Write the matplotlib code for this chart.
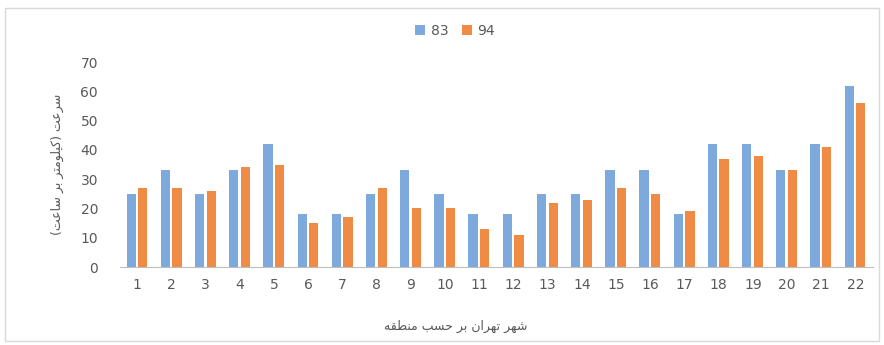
import numpy as np
import matplotlib
matplotlib.use("Agg")
from matplotlib import pyplot as plt
from matplotlib.patches import Rectangle

# Average speed per district of Tehran, two survey years
districts = [str(i) for i in range(1, 23)]
speed_83 = [25, 33, 25, 33, 42, 18, 18, 25, 33, 25, 18, 18, 25, 25, 33, 33, 18, 42, 42, 33, 42, 62]
speed_94 = [27, 27, 26, 34, 35, 15, 17, 27, 20, 20, 13, 11, 22, 23, 27, 25, 19, 37, 38, 33, 41, 56]
series_names = ["83", "94"]

y_label = "سرعت (کیلومتر بر ساعت)"
x_label = "شهر تهران بر حسب منطقه"

# matplotlib has no Arabic shaping, so pick the contextual glyphs by hand
# (isolated, final, initial, medial); right-joining letters have only two
FORMS = {
    "ا": ("\uFE8D", "\uFE8E"), "ر": ("\uFEAD", "\uFEAE"), "و": ("\uFEED", "\uFEEE"),
    "ب": ("\uFE8F", "\uFE90", "\uFE91", "\uFE92"), "ت": ("\uFE95", "\uFE96", "\uFE97", "\uFE98"),
    "ح": ("\uFEA1", "\uFEA2", "\uFEA3", "\uFEA4"), "س": ("\uFEB1", "\uFEB2", "\uFEB3", "\uFEB4"),
    "ش": ("\uFEB5", "\uFEB6", "\uFEB7", "\uFEB8"), "ط": ("\uFEC1", "\uFEC2", "\uFEC3", "\uFEC4"),
    "ع": ("\uFEC9", "\uFECA", "\uFECB", "\uFECC"), "ق": ("\uFED5", "\uFED6", "\uFED7", "\uFED8"),
    "ک": ("\uFB8E", "\uFB8F", "\uFB90", "\uFB91"), "ل": ("\uFEDD", "\uFEDE", "\uFEDF", "\uFEE0"),
    "م": ("\uFEE1", "\uFEE2", "\uFEE3", "\uFEE4"), "ن": ("\uFEE5", "\uFEE6", "\uFEE7", "\uFEE8"),
    "ه": ("\uFEE9", "\uFEEA", "\uFEEB", "\uFEEC"), "ی": ("\uFBFC", "\uFBFD", "\uFBFE", "\uFBFF"),
}


def rtl(text):
    """Shape Persian letters and return them in visual (left-to-right) order"""
    out = []
    for i, ch in enumerate(text):
        if ch not in FORMS:
            out.append(ch)
            continue
        prev = text[i - 1] if i > 0 else ""
        nxt = text[i + 1] if i + 1 < len(text) else ""
        join_prev = prev in FORMS and len(FORMS[prev]) == 4
        join_next = len(FORMS[ch]) == 4 and nxt in FORMS
        forms = FORMS[ch]
        if join_prev and join_next:
            out.append(forms[3])
        elif join_prev:
            out.append(forms[1])
        elif join_next:
            out.append(forms[2])
        else:
            out.append(forms[0])
    mirror = {"(": ")", ")": "("}
    return "".join(mirror.get(c, c) for c in reversed(out))


plt.rcParams["font.family"] = ["DejaVu Sans", "Noto Sans"]

fig = plt.figure(figsize=(8.84, 3.45), dpi=100)
ax = fig.add_axes([0.136, 0.226, 0.851, 0.594])

x = np.arange(1, len(districts) + 1)
w = 0.27
ax.bar(x - 0.18, speed_83, w, color="#7EA9DC", label=series_names[0])
ax.bar(x + 0.16, speed_94, w, color="#EF8B45", label=series_names[1])

ax.set_xlim(0.5, len(districts) + 0.5)
ax.set_ylim(0, 70)
ax.set_yticks(range(0, 71, 10))
ax.set_xticks(x)
ax.set_xticklabels(districts)
ax.tick_params(axis="both", length=0, labelsize=10, colors="#595959")
ax.tick_params(axis="x", pad=8)
ax.tick_params(axis="y", pad=16)
for side in ["top", "right", "left"]:
    ax.spines[side].set_visible(False)
ax.spines["bottom"].set_color("#BFBFBF")

ax.set_ylabel(rtl(y_label), fontsize=9, color="#595959", labelpad=12)
fig.text(0.515, 0.055, rtl(x_label), ha="center", va="center", fontsize=9, color="#595959")

fig.legend(loc="center", bbox_to_anchor=(0.515, 0.91), ncol=2, frameon=False,
           fontsize=10, handlelength=0.7, handleheight=0.7, columnspacing=1.0,
           handletextpad=0.4, labelcolor="#595959")

# light frame around the whole chart area
fig.patches.append(Rectangle((0.006, 0.012), 0.988, 0.965, transform=fig.transFigure,
                             fill=False, edgecolor="#D9D9D9", linewidth=1))

fig.savefig("out.png", dpi=100)
